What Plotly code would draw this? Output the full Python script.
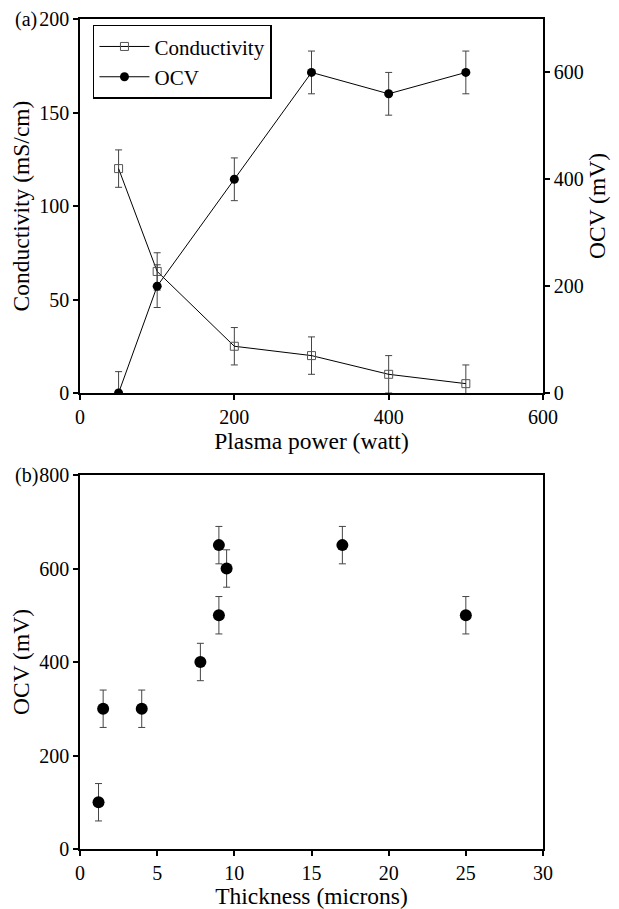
import plotly.graph_objects as go

# Panel (a)
power = [50, 100, 200, 300, 400, 500]
conductivity = [120, 65, 25, 20, 10, 5]
cond_err = [10, 10, 10, 10, 10, 10]
ocv_a = [0, 200, 400, 600, 560, 600]
ocv_a_err = [40, 40, 40, 40, 40, 40]

# Panel (b)
thickness = [1.2, 1.5, 4.0, 7.8, 9.0, 9.0, 9.5, 17.0, 25.0]
ocv_b = [100, 300, 300, 400, 500, 650, 600, 650, 500]
ocv_b_err = [40, 40, 40, 40, 40, 40, 40, 40, 40]

FONT = "Liberation Serif"
FS = 20
TFS = 23.5
ERRC = "#444444"

fig = go.Figure()

fig.add_trace(go.Scatter(
    x=power, y=conductivity, name="Conductivity", mode="lines+markers",
    line=dict(color="black", width=1),
    marker=dict(symbol="square-open", size=8, color="#555555", line=dict(width=1)),
    error_y=dict(type="data", array=cond_err, color=ERRC, thickness=1, width=3.5),
    xaxis="x", yaxis="y"))

fig.add_trace(go.Scatter(
    x=power, y=ocv_a, name="OCV", mode="lines+markers",
    line=dict(color="black", width=1),
    marker=dict(symbol="circle", size=9, color="black"),
    error_y=dict(type="data", array=ocv_a_err, color=ERRC, thickness=1, width=3.5),
    xaxis="x", yaxis="y2"))

fig.add_trace(go.Scatter(
    x=thickness, y=ocv_b, name="OCV (b)", mode="markers", showlegend=False,
    marker=dict(symbol="circle", size=12, color="black"),
    error_y=dict(type="data", array=ocv_b_err, color=ERRC, thickness=1, width=3.5),
    xaxis="x2", yaxis="y3"))

axis_common = dict(
    showline=True, linecolor="black", linewidth=1.7, ticks="outside",
    ticklen=5, tickwidth=1.7, tickcolor="black", showgrid=False, zeroline=False,
    automargin=False,
    tickfont=dict(family=FONT, size=FS, color="black"),
)

top_dom = [0.5494, 1.0]
bot_dom = [0.0, 0.4506]
tfont = dict(family=FONT, size=TFS, color="black")

fig.update_layout(
    width=611, height=901,
    margin=dict(l=72, r=76, t=11, b=60),
    paper_bgcolor="white", plot_bgcolor="white",
    font=dict(family=FONT, size=FS, color="black"),
    xaxis=dict(**axis_common, domain=[0, 1], anchor="y", range=[0, 600],
               tickvals=[0, 200, 400, 600], mirror=True,
               title=dict(text="Plasma power (watt)", font=tfont, standoff=2)),
    yaxis=dict(**axis_common, domain=top_dom, anchor="x", range=[0, 200],
               tickvals=[0, 50, 100, 150, 200],
               title=dict(text="Conductivity (mS/cm)", font=tfont, standoff=4)),
    yaxis2=dict(**axis_common, domain=top_dom, anchor="x", overlaying="y", side="right",
                range=[0, 700], tickvals=[0, 200, 400, 600],
                title=dict(text="OCV (mV)", font=tfont, standoff=1)),
    xaxis2=dict(**axis_common, domain=[0, 1], anchor="y3", range=[0, 30],
                tickvals=[0, 5, 10, 15, 20, 25, 30], mirror=True,
                title=dict(text="Thickness (microns)", font=tfont, standoff=2)),
    yaxis3=dict(**axis_common, domain=bot_dom, anchor="x2", range=[0, 800],
                tickvals=[0, 200, 400, 600, 800], mirror=True,
                title=dict(text="OCV (mV)", font=tfont, standoff=4)),
    legend=dict(x=0.028, y=0.993, xanchor="left", yanchor="top",
                bordercolor="black", borderwidth=1.5, bgcolor="white",
                font=dict(family=FONT, size=21, color="black"),
                tracegroupgap=0, itemwidth=50),
    showlegend=True,
)

fig.add_annotation(text="(a)", xref="paper", yref="paper", x=-0.145, y=1.0,
                   xanchor="left", yanchor="middle", showarrow=False,
                   font=dict(family=FONT, size=FS, color="black"))
fig.add_annotation(text="(b)", xref="paper", yref="paper", x=-0.145, y=bot_dom[1],
                   xanchor="left", yanchor="middle", showarrow=False,
                   font=dict(family=FONT, size=FS, color="black"))

fig.write_html("out.html")
